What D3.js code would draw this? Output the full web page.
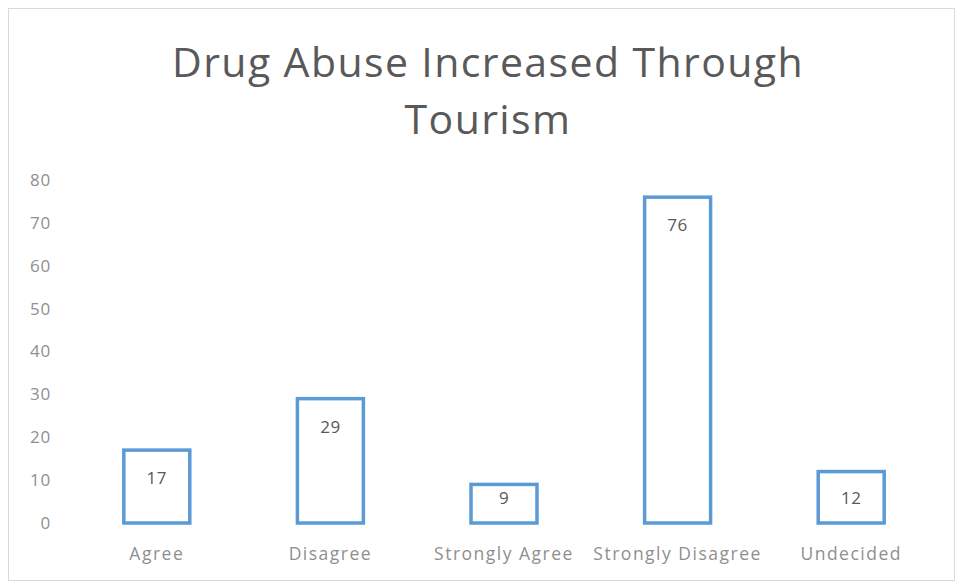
<!DOCTYPE html>
<html>
<head>
<meta charset="utf-8">
<script src="https://cdn.jsdelivr.net/npm/d3@7"></script>
<style>
  html, body { margin: 0; padding: 0; background: #fff; }
  svg { display: block; }
</style>
</head>
<body>
<svg id="chart" width="955" height="583"></svg>
<script>
// Survey responses: "Drug Abuse Increased Through Tourism"
const categories = ["Agree", "Disagree", "Strongly Agree", "Strongly Disagree", "Undecided"];
const values = [17, 29, 9, 76, 12];
const yTicks = [0, 10, 20, 30, 40, 50, 60, 70, 80];
const titleLines = ["Drug Abuse Increased Through", "Tourism"];

const svg = d3.select("#chart");
const W = 955, H = 583;
const font = "'Open Sans', 'Liberation Sans', sans-serif";

// outer chart frame
svg.append("rect")
  .attr("x", 8.5).attr("y", 8.5)
  .attr("width", W - 9).attr("height", H - 11)
  .attr("fill", "#fff")
  .attr("stroke", "#d9d9d9").attr("stroke-width", 1);

// title
svg.append("g").selectAll("text")
  .data(titleLines)
  .join("text")
  .attr("x", 488)
  .attr("y", (d, i) => 77 + i * 57)
  .attr("text-anchor", "middle")
  .attr("font-family", font)
  .attr("font-size", 41)
  .attr("letter-spacing", 1.4)
  .attr("fill", "#595959")
  .text(d => d);

const x = d3.scaleBand()
  .domain(categories)
  .range([70, 938])
  .paddingInner(0.62)
  .paddingOuter(0.31);

const y = d3.scaleLinear()
  .domain([0, 80])
  .range([523, 180]);

// y axis labels (no axis line, no gridlines)
const yAxis = svg.append("g")
  .attr("transform", "translate(51,0)")
  .call(d3.axisLeft(y).tickValues(yTicks).tickSize(0).tickPadding(0));
yAxis.select(".domain").remove();
yAxis.selectAll("text")
  .attr("font-family", font)
  .attr("font-size", 17)
  .attr("letter-spacing", 0.8)
  .attr("fill", "#8f8f8f");

// x axis category labels
const xAxis = svg.append("g")
  .attr("transform", "translate(0,523)")
  .call(d3.axisBottom(x).tickSize(0).tickPadding(25));
xAxis.select(".domain").remove();
xAxis.selectAll("text")
  .attr("font-family", font)
  .attr("font-size", 17.5)
  .attr("letter-spacing", 1.5)
  .attr("fill", "#8f8f8f");

// bars: white fill, blue outline
const data = categories.map((c, i) => ({ c, v: values[i] }));
svg.append("g").selectAll("rect")
  .data(data)
  .join("rect")
  .attr("x", d => x(d.c))
  .attr("y", d => y(d.v))
  .attr("width", x.bandwidth())
  .attr("height", d => y(0) - y(d.v))
  .attr("fill", "#fff")
  .attr("stroke", "#5b9bd5")
  .attr("stroke-width", 3.5);

// value labels at the inside end of each bar
svg.append("g").selectAll("text")
  .data(data)
  .join("text")
  .attr("x", d => x(d.c) + x.bandwidth() / 2)
  .attr("y", d => Math.min(y(d.v) + 34, y(0) - 19))
  .attr("text-anchor", "middle")
  .attr("font-family", font)
  .attr("font-size", 17)
  .attr("letter-spacing", 0.5)
  .attr("fill", "#595959")
  .text(d => d.v);
</script>
</body>
</html>
